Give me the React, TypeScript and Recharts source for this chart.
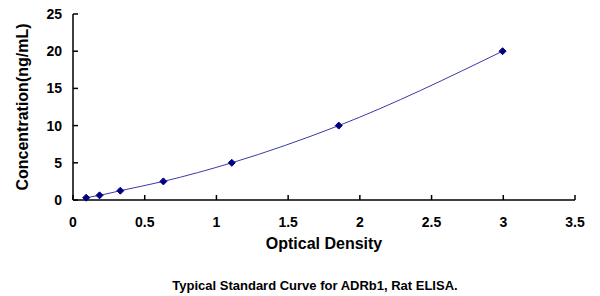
import React from "react";
import {
  LineChart,
  Line,
  XAxis,
  YAxis,
} from "recharts";

// standard curve readings (OD vs concentration)
const opticalDensity = [0.092, 0.185, 0.33, 0.63, 1.107, 1.853, 2.995];
const concentration = [0.31, 0.625, 1.25, 2.5, 5, 10, 20];
const xTicks = [0, 0.5, 1, 1.5, 2, 2.5, 3, 3.5];
const yTicks = [0, 5, 10, 15, 20, 25];

const chartData = opticalDensity.map((od, i) => ({
  od,
  conc: concentration[i],
}));

const FONT = "Arial, 'Liberation Sans', sans-serif";

const Diamond = (props: any) => {
  const { cx, cy } = props;
  if (cx == null || cy == null) return null;
  const r = 3.5;
  return (
    <polygon
      points={`${cx},${cy - r} ${cx + r},${cy} ${cx},${cy + r} ${cx - r},${cy}`}
      fill="#000080"
      stroke="#000080"
    />
  );
};

const App: React.FC = () => {
  return (
    <div
      style={{
        position: "absolute",
        left: 0,
        top: 0,
        width: 600,
        height: 296,
        background: "#fff",
      }}
    >
      <LineChart
        width={600}
        height={296}
        data={chartData}
        margin={{ top: 14, right: 25, bottom: 66, left: 0 }}
      >
        <XAxis
          type="number"
          dataKey="od"
          domain={[0, 3.5]}
          ticks={xTicks}
          height={30}
          tickSize={-5}
          tickMargin={22}
          stroke="#000"
          strokeWidth={1.5}
          tick={{ fill: "#000", fontSize: 14, fontWeight: "bold", fontFamily: FONT }}
          label={{
            value: "Optical Density",
            position: "insideBottom",
            offset: -19,
            style: { fill: "#000", fontSize: 16, fontWeight: "bold", fontFamily: FONT },
          }}
        />
        <YAxis
          type="number"
          domain={[0, 25]}
          ticks={yTicks}
          width={73}
          tickSize={-5}
          tickMargin={16}
          stroke="#000"
          strokeWidth={1.5}
          tick={{ fill: "#000", fontSize: 14, fontWeight: "bold", fontFamily: FONT }}
          label={{
            value: "Concentration(ng/mL)",
            angle: -90,
            position: "insideLeft",
            offset: 22,
            style: {
              textAnchor: "middle",
              fill: "#000",
              fontSize: 16,
              fontWeight: "bold",
              fontFamily: FONT,
            },
          }}
        />
        <Line
          type="monotone"
          dataKey="conc"
          stroke="#3a3aa8"
          strokeWidth={1}
          dot={<Diamond />}
          activeDot={false}
          isAnimationActive={false}
        />
      </LineChart>
      <div
        style={{
          position: "absolute",
          left: 15,
          top: 278,
          width: 600,
          textAlign: "center",
          fontFamily: FONT,
          fontWeight: "bold",
          fontSize: 13,
          color: "#000",
        }}
      >
        Typical Standard Curve for ADRb1, Rat ELISA.
      </div>
    </div>
  );
};

export default App;
